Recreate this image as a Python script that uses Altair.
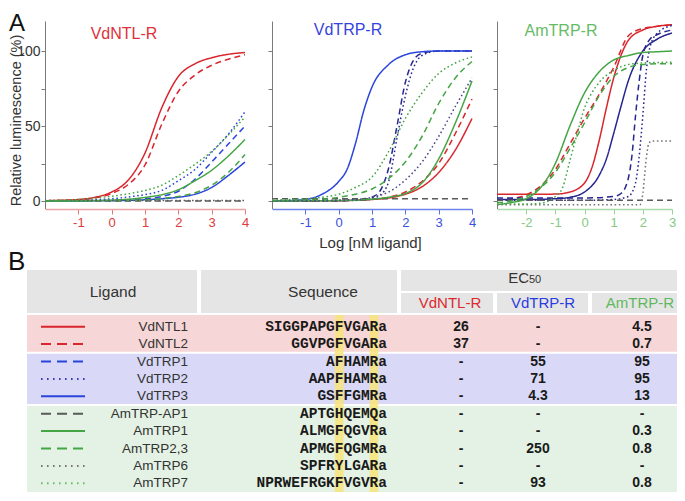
import altair as alt
import pandas as pd

FONT = "Liberation Sans"
MONO = "Liberation Mono"

# ---------------- table data ----------------
LIGANDS = ["VdNTL1", "VdNTL2", "VdTRP1", "VdTRP2", "VdTRP3",
           "AmTRP-AP1", "AmTRP1", "AmTRP2,3", "AmTRP6", "AmTRP7"]
SEQUENCES = ["SIGGPAPGFVGARa", "GGVPGFVGARa", "AFHAMRa", "AAPFHAMRa", "GSFFGMRa",
             "APTGHQEMQa", "ALMGFQGVRa", "APMGFQGMRa", "SPFRYLGARa", "NPRWEFRGKFVGVRa"]
EC50_VDNTL_R = ["26", "37", "-", "-", "-", "-", "-", "-", "-", "-"]
EC50_VDTRP_R = ["-", "-", "55", "71", "4.3", "-", "-", "250", "-", "93"]
EC50_AMTRP_R = ["4.5", "0.7", "95", "95", "13", "-", "0.3", "0.8", "-", "0.8"]
LINE_STYLE = ["solid", "dashed", "dashed", "dotted", "solid",
              "dashed", "solid", "dashed", "dotted", "dotted"]
GROUP_NAMES = ["VdNTL", "VdTRP", "AmTRP"]
GROUP_START = [0, 2, 5]
GROUP_END = [2, 5, 10]
RECEPTORS = ["VdNTL-R", "VdTRP-R", "AmTRP-R"]

# ---------------- dose-response curves (log nM, % luminescence) ----------------
# Panel 1: VdNTL-R
P1_X = [-2, -1.5, -1, -0.5, 0, 0.5, 1, 1.5, 2, 2.5, 3, 3.5, 4]
P1_VDNTL1 = [0.2, 0.5, 1.0, 2.5, 6, 14, 32, 62, 83, 91.5, 95.5, 97.8, 99]
P1_VDNTL2 = [0.1, 0.3, 0.8, 2, 5, 11, 24, 51, 73, 84, 90.5, 94.5, 97.5]
P1_VDTRP1 = [0, 0, 0.1, 0.2, 0.4, 0.8, 1.5, 3, 6.5, 14.5, 26, 38, 50]
P1_VDTRP2 = [0.1, 0.2, 0.4, 0.8, 1.5, 2.7, 4.3, 7, 13.5, 21, 32.5, 44.5, 59.5]
P1_VDTRP3 = [0, 0, 0, 0.1, 0.2, 0.4, 0.8, 1.5, 2.5, 4.5, 9, 17, 26]
P1_AMTRPAP1 = [0, 0, 0, 0, 0, 0, 0, 0, 0, 0, 0, 0, 0]
P1_AMTRP1 = [0, 0, 0.1, 0.3, 0.6, 1.2, 2.4, 4.2, 7.5, 13.5, 20.5, 30, 41]
P1_AMTRP23 = [0, 0, 0, 0.1, 0.2, 0.4, 0.8, 1.6, 3, 5.5, 10.5, 19, 31]
P1_AMTRP6 = [0.3, 0.3, 0.3, 0.3, 0.3, 0.3, 0.3, 0.3, 0.3, 0.3, 0.3, 0.3, 0.3]
P1_AMTRP7 = [0.2, 0.5, 1, 2, 3.2, 4.8, 7, 10.5, 17, 24.5, 33, 44, 56]

# Panel 2: VdTRP-R
P2_X = [-2, -1.5, -1, -0.5, 0, 0.5, 1, 1.5, 2, 2.5, 3, 3.5, 4]
P2_VDNTL1 = [0, 0, 0, 0.1, 0.2, 0.5, 1, 2, 4.5, 9.5, 19, 34, 55]
P2_VDNTL2 = [0, 0, 0, 0.1, 0.2, 0.6, 1.2, 2.5, 6, 13, 25, 45, 68]
P2_STEEP_X = [-2, 0, 0.75, 1, 1.25, 1.5, 1.75, 2, 2.25, 2.5, 3, 4]
P2_VDTRP1 = [0, 0.2, 1, 2.5, 7, 22, 50, 79, 94, 98.5, 100, 100]
P2_VDTRP2 = [0, 0.2, 0.6, 1.5, 4, 13, 42, 70, 89, 97, 100, 100]
P2_VDTRP3_X = [-2, -1.5, -1, -0.5, 0, 0.25, 0.5, 0.75, 1, 1.5, 2, 2.5, 3, 4]
P2_VDTRP3 = [0.1, 0.3, 1, 4.5, 13, 21, 38, 60, 76, 91, 97.5, 99.5, 100, 100]
P2_AMTRPAP1 = [1.5, 1.5, 1.5, 1.5, 1.5, 1.5, 1.5, 1.5, 1.5, 1.5, 1.5, 1.5, 1.5]
P2_AMTRP1 = [0, 0, 0.1, 0.2, 0.3, 0.6, 1.2, 2.5, 5, 12, 28, 52, 80]
P2_AMTRP23 = [0.2, 0.4, 0.7, 1.2, 2.5, 4.5, 8, 15, 26, 43, 65, 82, 93]
P2_AMTRP6 = [0.2, 0.2, 0.3, 0.4, 0.6, 1, 2.5, 6, 14, 26, 43, 63, 82]
P2_AMTRP7 = [0.5, 1, 1.5, 2.5, 4.5, 9, 16, 33, 55, 72, 85, 92, 96]

# Panel 3: AmTRP-R
P3_X = [-3, -2.5, -2, -1.5, -1, -0.5, 0, 0.5, 1, 1.5, 2, 2.5, 3]
P3_VDNTL1_X = [-3, -2, -1, -0.5, 0, 0.25, 0.5, 0.75, 1, 1.25, 1.5, 2, 2.5, 3]
P3_VDNTL1 = [4.5, 4.5, 4.6, 6, 12, 22, 40, 62, 82, 97, 107, 114, 116.5, 117.5]
P3_VDNTL2 = [0.5, 1.5, 4, 10, 21, 38, 55, 71, 89, 110, 115, 116.5, 117.5]
P3_VDTRP1_X = [-3, -1, 0, 1, 1.25, 1.5, 1.625, 1.75, 1.875, 2, 2.25, 2.5, 3]
P3_VDTRP1 = [2, 2, 2, 3, 5, 15, 30, 57, 80, 97, 108, 111, 114]
P3_VDTRP2_X = [-3, 0, 1, 1.5, 1.75, 1.875, 2, 2.125, 2.25, 2.5, 3]
P3_VDTRP2 = [0.5, 0.5, 1, 3, 12, 30, 57, 88, 103, 112, 117]
P3_VDTRP3_X = [-3, -2, -1, -0.5, 0, 0.5, 0.75, 1, 1.25, 1.5, 2, 2.5, 3]
P3_VDTRP3 = [1, 1, 1.5, 2.5, 6, 17, 28, 45, 63, 80, 100, 108, 112]
P3_AMTRPAP1 = [0.5, 0.5, 0.5, 0.5, 0.5, 0.5, 0.5, 0.5, 0.5, 0.5, 0.5, 0.5, 0.5]
P3_AMTRP1 = [-2.5, -1, 1.5, 9, 25, 50, 72, 86, 94, 97, 99, 99.5, 100]
P3_AMTRP23 = [-1, 0, 3, 9, 19, 35, 52, 70, 83, 89, 91, 91.5, 91.5]
P3_AMTRP6_X = [-3, 1.9, 2.0, 2.1, 2.2, 2.3, 3]
P3_AMTRP6 = [-2.5, -2.5, 5, 25, 38, 40, 40]
P3_AMTRP7_X = [-3, -2, -1.5, -1, -0.75, -0.5, -0.25, 0, 0.25, 0.5, 1, 1.5, 2, 3]
P3_AMTRP7 = [-2, -2, -1.5, 3, 9, 27, 45, 62, 72, 79, 87, 91, 92, 92.5]

# ---------------- styles / layout ----------------
RED = "#d9262c"
BLUE = "#2b45dc"
NAVY = "#262690"
GREEN = "#45a545"
GRAY = "#5a5a5a"
SLATE = "#4a4a88"
DASHES = {"solid": [1, 0], "dashed": [6, 4], "dotted": [1.6, 2.6]}
LEGEND_DASHES = {"solid": [1, 0], "dashed": [10, 6], "dotted": [1.6, 4.4]}

P1_COLORS = [RED, RED, BLUE, BLUE, BLUE, GRAY, GREEN, GREEN, GRAY, GREEN]
P2_COLORS = [RED, RED, NAVY, NAVY, BLUE, GRAY, GREEN, GREEN, SLATE, GREEN]
P3_COLORS = [RED, RED, NAVY, NAVY, NAVY, GRAY, GREEN, GREEN, "#777777", GREEN]
LEGEND_COLORS = [RED, RED, BLUE, "#3c3cc0", BLUE, GRAY, GREEN, GREEN, "#777777", "#6dbb6d"]

W, H = 669, 485
Y_DOMAIN = [-5, 120]
Y_RANGE = [200.5, 13]
X_AXIS_Y = 201
MINUS_EXPR = "datum.value < 0 ? '-' + abs(datum.value) : datum.label"


def curves_df(xs_list, ys_list):
    rows = []
    for lig, xs, ys in zip(LIGANDS, xs_list, ys_list):
        assert len(xs) == len(ys), lig
        for x, y in zip(xs, ys):
            rows.append({"lig": lig, "x": x, "y": y})
    return pd.DataFrame(rows)


P1_DF = curves_df([P1_X] * 10,
                  [P1_VDNTL1, P1_VDNTL2, P1_VDTRP1, P1_VDTRP2, P1_VDTRP3,
                   P1_AMTRPAP1, P1_AMTRP1, P1_AMTRP23, P1_AMTRP6, P1_AMTRP7])
P2_DF = curves_df([P2_X, P2_X, P2_STEEP_X, P2_STEEP_X, P2_VDTRP3_X,
                   P2_X, P2_X, P2_X, P2_X, P2_X],
                  [P2_VDNTL1, P2_VDNTL2, P2_VDTRP1, P2_VDTRP2, P2_VDTRP3,
                   P2_AMTRPAP1, P2_AMTRP1, P2_AMTRP23, P2_AMTRP6, P2_AMTRP7])
P3_DF = curves_df([P3_VDNTL1_X, P3_X, P3_VDTRP1_X, P3_VDTRP2_X, P3_VDTRP3_X,
                   P3_X, P3_X, P3_X, P3_AMTRP6_X, P3_AMTRP7_X],
                  [P3_VDNTL1, P3_VDNTL2, P3_VDTRP1, P3_VDTRP2, P3_VDTRP3,
                   P3_AMTRPAP1, P3_AMTRP1, P3_AMTRP23, P3_AMTRP6, P3_AMTRP7])


def panel(df, colors, xdom, xrng, xvals, dom_c, tick_c, lab_c,
          title, title_c, title_xy, show_y=False, x_title=None):
    xs = alt.Scale(domain=xdom, range=xrng, nice=False, zero=False)
    ys = alt.Scale(domain=Y_DOMAIN, range=Y_RANGE, nice=False, zero=False)
    xa = dict(orient="bottom", offset=-(H - X_AXIS_Y), values=xvals, grid=False,
              domainColor=dom_c, domainWidth=1.5, tickColor=tick_c, tickSize=5,
              labelColor=lab_c, labelFont=FONT, labelFontSize=13, labelPadding=2,
              labelFlush=False, labelExpr=MINUS_EXPR, title=None)
    if x_title:
        xa.update(title=x_title, titleX=362, titleY=33, titleFont=FONT,
                  titleFontSize=15, titleFontWeight="normal", titleColor="#333333",
                  titleAlign="center", titleBaseline="middle")
    ya = dict(orient="left", offset=-xrng[0], values=[0, 25, 50, 75, 100], grid=False,
              domainColor="#7a7a7a", tickColor="#7a7a7a", tickSize=4,
              labels=show_y, title=None)
    if show_y:
        ya.update(labelExpr="datum.value % 50 === 0 ? datum.label : ''",
                  labelFont=FONT, labelFontSize=14, labelColor="#333333", labelPadding=1,
                  title="Relative luminescence (%)", titleX=8 - xrng[0], titleY=112,
                  titleAngle=270, titleAlign="center", titleBaseline="middle",
                  titleFont=FONT, titleFontSize=14.5, titleFontWeight="normal",
                  titleColor="#333333")
    lines = alt.Chart(df).mark_line(strokeWidth=1.5, interpolate="monotone").encode(
        x=alt.X("x:Q", scale=xs, axis=alt.Axis(**xa)),
        y=alt.Y("y:Q", scale=ys, axis=alt.Axis(**ya)),
        color=alt.Color("lig:N", scale=alt.Scale(domain=LIGANDS, range=colors), legend=None),
        strokeDash=alt.StrokeDash("lig:N", scale=alt.Scale(
            domain=LIGANDS, range=[DASHES[s] for s in LINE_STYLE]), legend=None),
    )
    label = alt.Chart(pd.DataFrame({"t": [title]})).mark_text(
        font=FONT, fontSize=16, color=title_c, baseline="middle").encode(
        x=alt.value(title_xy[0]), y=alt.value(title_xy[1]), text="t:N")
    return alt.layer(lines, label)


p1 = panel(P1_DF, P1_COLORS, [-2, 4], [37, 237], [-1, 0, 1, 2, 3, 4],
           "#eaa2a2", "#e07a7a", "#e03a3a", RECEPTORS[0], "#e0303a", (116, 26), show_y=True)
p2 = panel(P2_DF, P2_COLORS, [-2, 4], [264, 464], [-1, 0, 1, 2, 3, 4],
           "#6f82ea", "#5a6ee6", "#3a50e0", RECEPTORS[1], "#3344e0", (340, 22),
           x_title="Log [nM ligand]")
p3 = panel(P3_DF, P3_COLORS, [-3, 3], [489, 664], [-2, -1, 0, 1, 2, 3],
           "#a9dba9", "#9ad29a", "#86c886", RECEPTORS[2], "#66bb66", (553, 23))

# ---------------- table (panel B) ----------------
TX = alt.Scale(domain=[0, W], range=[0, W], nice=False, zero=False)
TY = alt.Scale(domain=[-2.76, 10], range=[262, 484], nice=False, zero=False)
SEQ_RIGHT = 379
SEQ_SIZE = 14.5
CW = 0.6 * SEQ_SIZE

tbl = pd.DataFrame({"lig": LIGANDS, "seq": SEQUENCES, "e1": EC50_VDNTL_R,
                    "e2": EC50_VDTRP_R, "e3": EC50_AMTRP_R,
                    "row": [i + 0.5 for i in range(len(LIGANDS))]})

header_cells = pd.DataFrame({
    "x0": [19, 193, 393, 393, 489, 584], "x1": [189, 389, W, 485, 580, W],
    "y0": [-2.76, -2.76, -2.76, -1.44, -1.44, -1.44],
    "y1": [-0.29, -0.29, -1.55, -0.29, -0.29, -0.29]})
header_rect = alt.Chart(header_cells).mark_rect(color="#e5e5e5").encode(
    x=alt.X("x0:Q", scale=TX, axis=None), x2="x1:Q",
    y=alt.Y("y0:Q", scale=TY, axis=None), y2="y1:Q")

bands_df = pd.DataFrame({
    "grp": GROUP_NAMES,
    "y0": [GROUP_START[0] - 0.17] + [s + 0.06 for s in GROUP_START[1:]],
    "y1": [e - 0.06 for e in GROUP_END[:-1]] + [GROUP_END[-1]]})
bands = alt.Chart(bands_df).mark_rect().encode(
    x=alt.value(19), x2=alt.value(W),
    y=alt.Y("y0:Q", scale=TY, axis=None), y2="y1:Q",
    fill=alt.Fill("grp:N", scale=alt.Scale(domain=GROUP_NAMES,
                                           range=["#f6d6d6", "#d9d9f7", "#e3f2e4"]), legend=None))

hl_df = pd.DataFrame({"x0": [SEQ_RIGHT - 6 * CW, SEQ_RIGHT - 2 * CW],
                      "x1": [SEQ_RIGHT - 5 * CW, SEQ_RIGHT - 1 * CW],
                      "y0": [GROUP_START[0] - 0.17] * 2, "y1": [GROUP_END[-1]] * 2})
highlight = alt.Chart(hl_df).mark_rect(color="#f8e47a", opacity=0.85).encode(
    x=alt.X("x0:Q", scale=TX, axis=None), x2="x1:Q",
    y=alt.Y("y0:Q", scale=TY, axis=None), y2="y1:Q")

head_txt = alt.Chart(pd.DataFrame({"t": ["Ligand", "Sequence"], "x": [105, 315],
                                   "y": [-1.52, -1.52]})).mark_text(
    font=FONT, fontSize=15.5, color="#333333", baseline="middle").encode(
    x=alt.X("x:Q", scale=TX, axis=None), y=alt.Y("y:Q", scale=TY, axis=None), text="t:N")
ec_main = alt.Chart(pd.DataFrame({"t": ["EC"], "x": [521], "y": [-1.99]})).mark_text(
    font=FONT, fontSize=15, color="#333333", align="right", baseline="alphabetic").encode(
    x=alt.X("x:Q", scale=TX, axis=None), y=alt.Y("y:Q", scale=TY, axis=None), text="t:N")
ec_sub = alt.Chart(pd.DataFrame({"t": ["50"], "x": [521], "y": [-1.99]})).mark_text(
    font=FONT, fontSize=11, color="#333333", align="left", baseline="alphabetic").encode(
    x=alt.X("x:Q", scale=TX, axis=None), y=alt.Y("y:Q", scale=TY, axis=None), text="t:N")

sub_layers = []
for name, xpos, col in zip(RECEPTORS, [442, 535, 632], ["#dd2a30", "#2a3ce0", "#5fb85f"]):
    sub_layers.append(alt.Chart(pd.DataFrame({"t": [name], "x": [xpos], "y": [-0.86]})).mark_text(
        font=FONT, fontSize=15, color=col, baseline="middle").encode(
        x=alt.X("x:Q", scale=TX, axis=None), y=alt.Y("y:Q", scale=TY, axis=None), text="t:N"))

legend_rules = alt.Chart(tbl).mark_rule(strokeWidth=2).encode(
    x=alt.value(33), x2=alt.value(77),
    y=alt.Y("row:Q", scale=TY, axis=None),
    color=alt.Color("lig:N", scale=alt.Scale(domain=LIGANDS, range=LEGEND_COLORS), legend=None),
    strokeDash=alt.StrokeDash("lig:N", scale=alt.Scale(
        domain=LIGANDS, range=[LEGEND_DASHES[s] for s in LINE_STYLE]), legend=None))

names = alt.Chart(tbl).mark_text(font=FONT, fontSize=13.5, color="#333333",
                                 align="right", baseline="middle").encode(
    x=alt.value(180), y=alt.Y("row:Q", scale=TY, axis=None), text="lig:N")
seqs = alt.Chart(tbl).mark_text(font=MONO, fontWeight="bold", fontSize=SEQ_SIZE,
                                color="#1a1a1a", align="right", baseline="middle").encode(
    x=alt.value(SEQ_RIGHT), y=alt.Y("row:Q", scale=TY, axis=None), text="seq:N")
vals = []
for field, xpos in zip(["e1", "e2", "e3"], [453, 530, 634]):
    vals.append(alt.Chart(tbl).mark_text(font=FONT, fontWeight="bold", fontSize=14,
                                         color="#1a1a1a", baseline="middle").encode(
        x=alt.value(xpos), y=alt.Y("row:Q", scale=TY, axis=None), text=f"{field}:N"))

letter_a = alt.Chart(pd.DataFrame({"t": ["A"]})).mark_text(
    font=FONT, fontSize=24, color="#111111", align="left", baseline="alphabetic").encode(
    x=alt.value(1), y=alt.value(23), text="t:N")
letter_b = alt.Chart(pd.DataFrame({"t": ["B"]})).mark_text(
    font=FONT, fontSize=26, color="#111111", align="left", baseline="alphabetic").encode(
    x=alt.value(0), y=alt.value(262), text="t:N")

table = alt.layer(header_rect, bands, highlight, head_txt, ec_main, ec_sub, *sub_layers,
                  legend_rules, names, seqs, *vals, letter_a, letter_b).resolve_scale(
    color="independent", strokeDash="independent", fill="independent")

chart = alt.layer(p1, p2, p3, table).resolve_scale(
    x="independent", y="independent", color="independent", strokeDash="independent"
).properties(
    width=W, height=H, padding=0, autosize=alt.AutoSizeParams(type="none")
).configure_view(strokeWidth=0)

chart.save("out.html", embed_options={"renderer": "svg", "actions": False})
